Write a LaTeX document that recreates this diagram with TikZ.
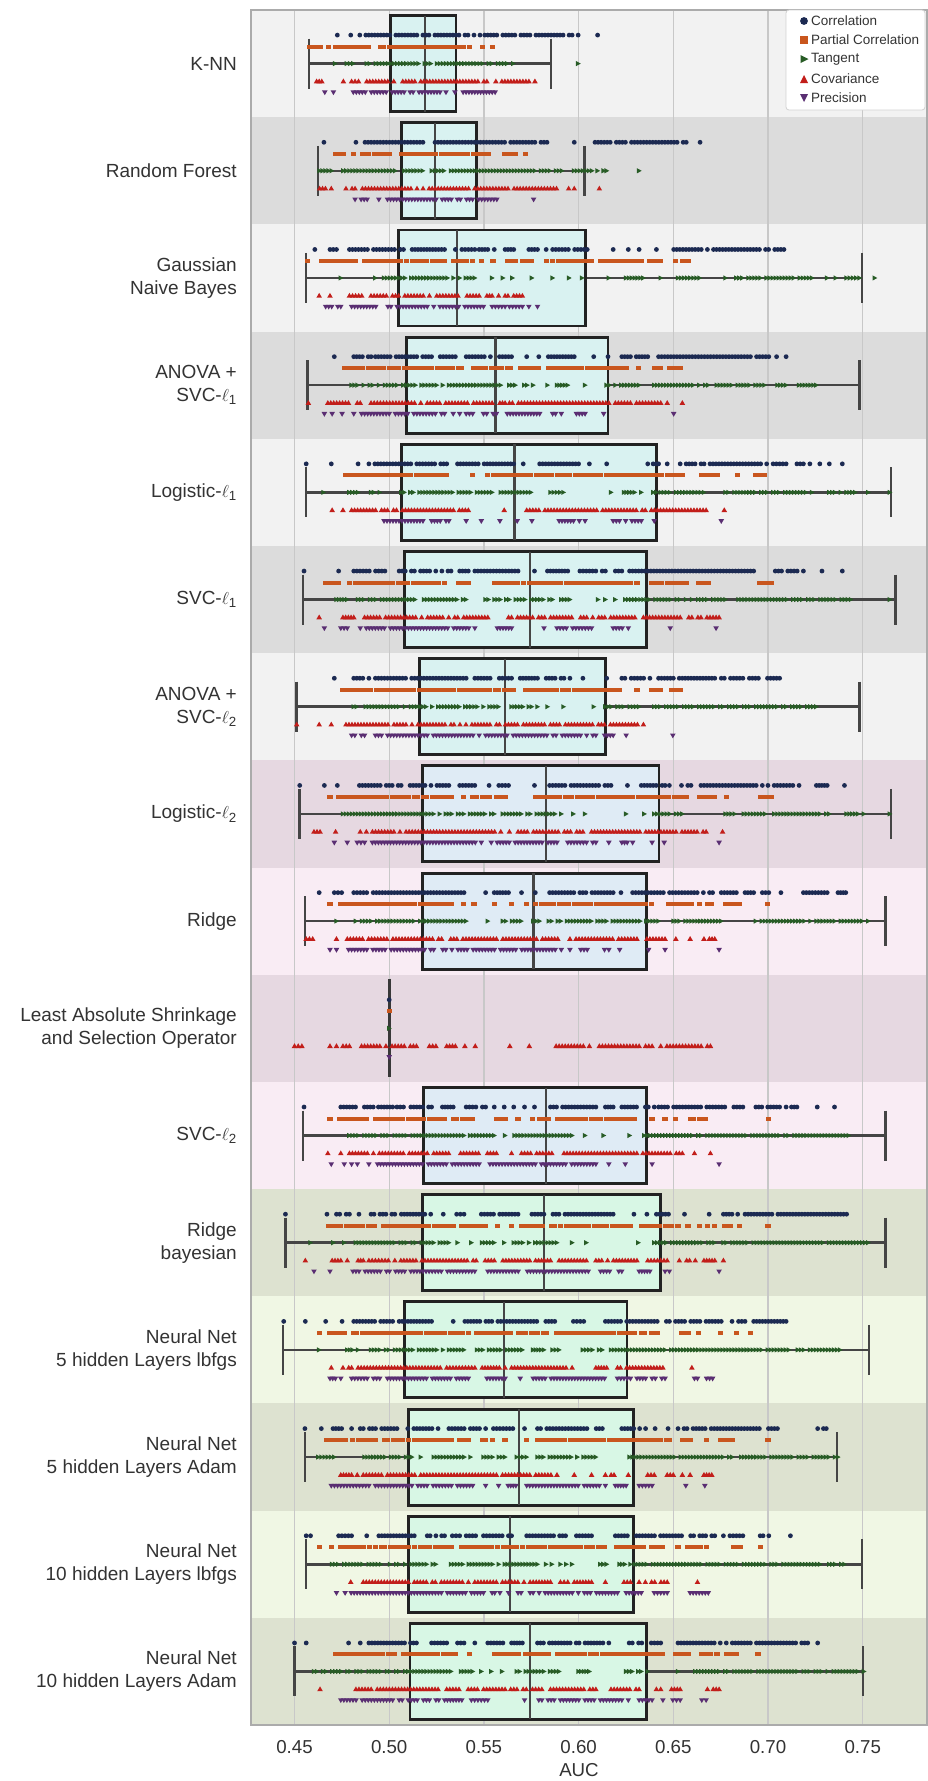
\documentclass[tikz,border=0pt]{standalone}
\usepackage{fontspec}
\setmainfont{Liberation Sans}
\definecolor{bandA}{HTML}{F2F2F2}
\definecolor{bandB}{HTML}{DCDCDC}
\definecolor{bandPa}{HTML}{E6D8E1}
\definecolor{bandPb}{HTML}{F9ECF4}
\definecolor{bandGa}{HTML}{DDE2D0}
\definecolor{bandGb}{HTML}{F0F7E4}
\definecolor{boxC}{HTML}{D9F2F1}
\definecolor{boxB}{HTML}{DFEBF5}
\definecolor{boxG}{HTML}{D8F7E5}
\definecolor{ccorr}{HTML}{1C2A52}
\definecolor{cpart}{HTML}{C9561E}
\definecolor{ctan}{HTML}{285C26}
\definecolor{ccov}{HTML}{C21E1A}
\definecolor{cprec}{HTML}{5A2E72}
\definecolor{txtc}{HTML}{333333}
\definecolor{gridc}{HTML}{C8C8C8}
\definecolor{framec}{HTML}{ABABAB}
\definecolor{whiskc}{HTML}{454545}
\definecolor{edgec}{HTML}{222222}

% markers of the five strips
\newcommand\mcorr[2]{\fill[ccorr] (#1,#2) circle (2.4pt);}
\newcommand\mpart[2]{\fill[cpart] (#1,#2) ++(-2.6pt,-2pt) rectangle ++(5.2pt,4pt);}
\newcommand\mtan[2]{\fill[ctan] (#1,#2) ++(-2.2pt,2.6pt) -- ++(4.8pt,-2.6pt) -- ++(-4.8pt,-2.6pt) -- cycle;}
\newcommand\mcov[2]{\fill[ccov] (#1,#2) ++(-2.8pt,-2.2pt) -- ++(5.6pt,0pt) -- ++(-2.8pt,4.8pt) -- cycle;}
\newcommand\mprec[2]{\fill[cprec] (#1,#2) ++(-2.8pt,2.2pt) -- ++(5.6pt,0pt) -- ++(-2.8pt,-4.8pt) -- cycle;}

% strip of markers: row, vertical offset, marker, list of from/to runs (axis units)
\newcommand\drawstrip[4]{%
  \pgfmathsetmacro\stripy{10+(#1-0.5)*107.19+#2}%
  \foreach \segA/\segB in {#4}{%
    \pgfmathtruncatemacro\segN{round((\segB-\segA)/7)}%
    \pgfmathsetmacro\segD{(\segB-\segA)/max(\segN,1)}%
    \foreach \k in {0,...,\segN}{%
      \pgfmathtruncatemacro\keep{(rnd>0.12)||(\k==0)||(\k==\segN)}%
      \ifnum\keep>0
        \pgfmathsetmacro\segX{250+(\segA+\k*\segD)/2.313}%
        #3{\segX}{\stripy}%
      \fi
    }%
  }%
}
\newcommand\rowdots[6]{%
  \drawstrip{#1}{-28.5}{\mcorr}{#2}%
  \drawstrip{#1}{-17}{\mpart}{#3}%
  \drawstrip{#1}{0}{\mtan}{#4}%
  \drawstrip{#1}{17.5}{\mcov}{#5}%
  \drawstrip{#1}{29}{\mprec}{#6}%
}
% box and whiskers: row, low whisker, Q1, median, Q3, high whisker, fill
\newcommand\boxrow[7]{%
  \pgfmathsetmacro\bc{10+(#1-0.5)*107.19}%
  \pgfmathsetmacro\bwl{250+#2/2.313}%
  \pgfmathsetmacro\bqa{250+#3/2.313}%
  \pgfmathsetmacro\bmd{250+#4/2.313}%
  \pgfmathsetmacro\bqb{250+#5/2.313}%
  \pgfmathsetmacro\bwh{250+#6/2.313}%
  \draw[whisk] (\bwl,\bc) -- (\bqa,\bc) (\bqb,\bc) -- (\bwh,\bc);
  \draw[whisk] (\bwl,{\bc-25}) -- (\bwl,{\bc+25});
  \draw[whisk] (\bwh,{\bc-25}) -- (\bwh,{\bc+25});
  \filldraw[boxline, fill=#7] (\bqa,{\bc-48}) rectangle (\bqb,{\bc+48});
  \draw[medline] (\bmd,{\bc-48}) -- (\bmd,{\bc+48});
}

\begin{document}
\begin{tikzpicture}[x=1pt,y=-1pt,
  whisk/.style={draw=whiskc, line width=2.5pt},
  boxline/.style={draw=edgec, line width=2.9pt},
  medline/.style={draw=whiskc, line width=2.4pt},
  rowlabel/.style={anchor=east, align=right, inner sep=0pt, text=txtc,
    font=\fontsize{19}{22.8}\selectfont},
  ticklabel/.style={inner sep=0pt, text=txtc, font=\fontsize{18.7}{22}\selectfont},
  legtext/.style={anchor=west, inner sep=0pt, text=txtc, font=\fontsize{13.5}{16}\selectfont}]
\pgfmathsetseed{4242}
\useasboundingbox (0,0) rectangle (928,1781);
\fill[white] (0,0) rectangle (928,1781);

% row bands
\foreach \i/\c in {1/bandA,2/bandB,3/bandA,4/bandB,5/bandA,6/bandB,7/bandA,
  8/bandPa,9/bandPb,10/bandPa,11/bandPb,12/bandGa,13/bandGb,14/bandGa,15/bandGb,16/bandGa}{
  \fill[\c] (251,{10+(\i-1)*107.19}) rectangle (927,{10+\i*107.19});
}
% vertical grid
\foreach \k in {0,...,6}{
  \draw[gridc, line width=1.2pt] ({294.5+\k*94.7},10) -- ({294.5+\k*94.7},1725);
}

% boxes
\boxrow{1}{137}{324}{405}{476.5}{696}{boxC}
\boxrow{2}{157}{351}{428.5}{524}{773.5}{boxC}
\boxrow{3}{129}{344}{479}{776}{1415}{boxC}
\boxrow{4}{133}{362}{568}{828}{1410}{boxC}
\boxrow{5}{129}{350}{612}{940}{1483}{boxC}
\boxrow{6}{123}{358}{648}{918}{1493}{boxC}
\boxrow{7}{107}{392}{590}{822}{1410}{boxC}
\boxrow{8}{115}{400}{684}{946}{1483}{boxB}
\boxrow{9}{127}{398}{656}{918}{1470}{boxB}
\boxrow{11}{123}{402}{684}{918}{1470}{boxB}
\boxrow{12}{82}{398}{680}{950}{1470}{boxG}
\boxrow{13}{76}{357}{587}{872}{1432}{boxG}
\boxrow{14}{127}{367}{622}{888}{1358}{boxG}
\boxrow{15}{129}{366}{602}{888}{1415}{boxG}
\boxrow{16}{103}{370}{648}{918}{1418}{boxG}
% degenerate box of the lasso row
\draw[draw=edgec!90, line width=2.9pt] ({250+322/2.313},978.7) -- ({250+322/2.313},1077);

% strips
\rowdots{1}{202/202, 233/233, 254/532, 543/759, 804/804}
 {139/163, 181/181, 199/199, 210/507, 537/537, 560/560}
 {197/197, 224/239, 270/609, 759/759}
 {154/166, 216/216, 235/251, 270/659}
 {173/173, 193/193, 239/474, 493/567}
\rowdots{2}{171/171, 245/245, 266/400, 428/687, 750/750, 798/1009, 1041/1041}
 {198/216, 240/240, 260/492, 503/551, 588/613, 638/638}
 {161/189, 216/449, 465/791, 804/825, 900/900}
 {161/188, 222/243, 260/709, 737/750, 808/808}
 {243/271, 298/298, 318/571, 656/656}
\rowdots{3}{150/150, 185/200, 230/355, 375/450, 475/520, 530/550, 565/565, 590/610, 645/665, 685/685, 700/780, 840/840, 875/875, 900/900, 940/940, 980/1235}
 {133/133, 165/185, 195/390, 400/450, 470/515, 535/535, 562/562, 595/615, 630/650, 685/685, 700/790, 810/905, 925/950, 985/985, 1000/1015}
 {210/210, 290/290, 310/520, 560/560, 585/585, 607/607, 652/652, 700/700, 738/738, 768/768, 830/830, 870/910, 950/950, 990/1040, 1100/1100, 1125/1300, 1335/1335, 1355/1355, 1380/1410, 1445/1445}
 {160/160, 185/185, 230/415, 432/530, 548/560, 575/575, 590/630}
 {175/210, 235/410, 425/540, 560/590, 600/630, 645/645, 665/665}
\rowdots{4}{195/195, 240/280, 290/420, 440/475, 500/605, 640/640, 668/668, 690/750, 795/795, 828/828, 860/920, 945/1200, 1218/1218, 1240/1240}
 {218/455, 467/467, 483/525, 537/603, 627/668, 690/870, 898/898, 935/950, 970/995}
 {235/580, 600/655, 688/688, 710/735, 775/775, 825/900, 935/1060, 1080/1190, 1220/1240, 1270/1310}
 {135/135, 180/255, 280/395, 410/560, 578/590, 600/830, 845/950, 965/965, 1000/1000}
 {172/172, 190/190, 213/213, 240/240, 258/450, 470/515, 540/570, 595/670, 700/720, 755/775, 818/818, 980/980}
\rowdots{5}{130/130, 188/188, 250/250, 275/455, 480/610, 632/632, 670/760, 785/785, 825/825, 920/945, 965/965, 995/1195, 1210/1240, 1265/1280, 1295/1295, 1318/1318, 1340/1340, 1370/1370}
 {220/455, 515/515, 550/610, 620/1000, 1045/1080, 1128/1128, 1170/1190}
 {170/170, 230/250, 280/300, 350/560, 580/650, 695/725, 835/835, 865/890, 905/940, 950/1050, 1100/1300, 1340/1400, 1430/1430, 1480/1480}
 {190/190, 215/215, 235/505, 588/588, 640/1055, 1097/1097}
 {310/400, 420/460, 500/500, 535/535, 578/578, 618/618, 652/652, 715/775, 840/905, 935/935, 1090/1090}
\rowdots{6}{125/125, 205/205, 240/312, 345/465, 485/505, 520/620, 658/658, 688/735, 763/822, 845/860, 878/1165, 1215/1280, 1323/1323, 1370/1370}
 {175/205, 230/450, 483/505, 565/590, 598/895, 930/1010, 1038/1060, 1178/1205}
 {200/225, 250/500, 545/600, 615/700, 720/740, 805/805, 822/822, 845/845, 868/1100, 1130/1390, 1480/1480}
 {160/160, 215/240, 265/550, 598/890, 910/995, 1015/1085}
 {172/172, 210/225, 255/520, 572/605, 680/680, 710/790, 840/875, 972/972, 1078/1078}
\rowdots{7}{195/195, 240/275, 290/500, 520/605, 625/665, 685/740, 770/770, 825/825, 860/925, 945/1075, 1090/1140, 1155/1225}
 {215/470, 485/530, 540/610, 638/855, 895/895, 930/950, 975/995}
 {240/575, 605/665, 688/688, 725/725, 795/795, 822/900, 935/1310}
 {108/108, 160/160, 188/188, 222/555, 570/910}
 {235/265, 290/530, 545/800, 820/840, 870/870, 978/978}
\rowdots{8}{115/115, 172/172, 202/202, 253/460, 485/520, 553/598, 658/658, 693/835, 873/873, 905/960, 970/970, 998/1020, 1043/1185, 1198/1270, 1310/1335, 1375/1375}
 {185/185, 205/350, 360/465, 493/493, 515/553, 570/590, 660/1010, 1040/1075, 1103/1103, 1180/1205}
 {215/565, 585/720, 748/748, 775/775, 870/870, 912/912, 935/1000, 1100/1340, 1380/1420, 1480/1480}
 {148/162, 198/198, 255/580, 600/600, 620/770, 790/1055, 1093/1093}
 {195/195, 225/225, 248/265, 283/535, 558/710, 735/800, 830/830, 860/885, 930/930, 958/958, 1085/1085}
\rowdots{9}{160/160, 195/212, 240/270, 285/495, 545/598, 628/628, 660/660, 693/840, 858/858, 885/1070, 1090/1125, 1145/1165, 1185/1200, 1228/1228, 1280/1335, 1360/1378}
 {185/185, 210/245, 252/465, 493/493, 518/518, 565/565, 605/605, 640/640, 660/928, 968/990, 1000/1020, 1040/1040, 1058/1068, 1100/1133, 1197/1197}
 {200/200, 245/500, 550/550, 585/945, 980/1090, 1170/1430}
 {130/145, 200/200, 225/570, 585/895, 918/960, 985/985, 1018/1018, 1050/1075}
 {185/200, 228/720, 740/740, 765/780, 820/830, 855/855, 922/922, 960/960, 1085/1085}
\rowdots{10}{322/322}{322/322}{322/322}
 {103/120, 185/230, 258/385, 415/430, 455/475, 497/497, 521/521, 601/601, 646/646, 708/785, 808/900, 915/930, 950/1065}
 {322/322}
\rowdots{11}{125/125, 210/285, 297/330, 340/355, 372/420, 445/470, 500/545, 565/565, 588/588, 610/610, 635/635, 658/658, 695/800, 822/840, 860/935, 945/1140, 1170/1225, 1240/1265, 1312/1312, 1352/1352}
 {185/185, 207/450, 470/515, 570/590, 620/620, 653/653, 670/810, 825/890, 930/930, 960/960, 985/985, 1018/1053, 1200/1200}
 {230/565, 590/590, 612/745, 775/775, 818/818, 878/878, 912/1385}
 {180/180, 210/210, 230/410, 425/570, 605/605, 628/1000, 1028/1028, 1065/1065}
 {188/188, 218/218, 235/275, 295/530, 555/800, 830/830, 868/868, 930/930, 1085/1085}
\rowdots{12}{82/82, 178/178, 200/230, 252/252, 280/335, 350/418, 447/447, 478/495, 535/620, 652/840, 888/888, 918/918, 940/968, 1005/1005, 1062/1062, 1095/1128, 1145/1380}
 {182/330, 342/470, 490/515, 525/545, 572/572, 604/604, 628/880, 905/990, 1013/1013, 1040/1040, 1058/1075, 1097/1112, 1132/1132, 1198/1198}
 {140/140, 193/193, 218/218, 245/460, 480/480, 512/512, 537/565, 588/588, 610/710, 745/745, 778/778, 898/898, 935/1430}
 {128/128, 190/210, 225/225, 250/262, 275/320, 335/565, 585/695, 715/778, 800/895, 920/965, 993/993, 1010/1030, 1050/1075, 1095/1095}
 {148/148, 185/185, 238/520, 550/860, 900/925, 960/970, 1085/1085}
\rowdots{13}{78/78, 128/128, 175/175, 213/213, 240/330, 345/420, 470/470, 497/705, 748/772, 822/1090, 1115/1145, 1165/1240}
 {160/160, 185/218, 240/505, 525/685, 710/890, 905/943, 998/1015, 1038/1038, 1088/1088, 1125/1125, 1157/1157}
 {160/160, 225/250, 280/495, 525/630, 655/680, 700/715, 770/815, 835/1365}
 {188/188, 215/235, 250/440, 455/520, 537/590, 605/745, 800/825, 850/955, 1022/1022}
 {185/210, 235/300, 318/505, 548/590, 625/625, 655/820, 850/880, 895/915, 930/960, 1028/1070}
\rowdots{14}{127/127, 165/165, 192/212, 235/235, 255/340, 365/435, 460/545, 563/608, 635/635, 665/815, 860/915, 937/937, 967/967, 990/1220, 1313/1333}
 {178/258, 270/465, 485/505, 537/560, 590/590, 640/640, 665/970, 1000/1018, 1055/1055, 1088/1115, 1198/1198}
 {158/195, 265/395, 425/510, 540/590, 617/640, 665/800, 878/1360}
 {210/235, 248/710, 750/750, 790/790, 822/842, 875/875, 920/935, 965/1000, 1018/1018, 1050/1068}
 {188/275, 290/515, 545/545, 575/575, 597/615, 640/822, 845/870, 900/930, 1008/1008, 1052/1052}
\rowdots{15}{130/140, 205/235, 270/270, 298/380, 410/450, 468/485, 500/522, 540/605, 640/730, 755/790, 845/1075, 1095/1140, 1180/1200, 1250/1250}
 {160/160, 188/238, 248/465, 490/540, 552/600, 610/680, 695/820, 848/910, 930/955, 990/990, 1013/1055, 1118/1135, 1180/1180}
 {190/430, 465/665, 685/745, 810/825, 855/880, 890/1375}
 {233/233, 262/505, 520/655, 662/695, 718/735, 750/790, 822/822, 865/880, 900/965, 1035/1035}
 {200/200, 220/540, 560/578, 598/598, 620/850, 870/905, 935/965, 1018/1060}
\rowdots{16}{103/103, 130/130, 228/228, 255/255, 275/385, 420/455, 480/495, 520/520, 550/585, 605/630, 665/830, 877/950, 990/1290, 1313/1313}
 {198/235, 245/335, 355/475, 507/507, 565/620, 637/690, 712/850, 860/955, 985/1015, 1045/1080, 1103/1125, 1175/1175}
 {148/465, 488/515, 535/535, 558/558, 583/583, 617/715, 760/785, 870/905, 920/920, 990/990, 1030/1420}
 {162/162, 245/435, 455/590, 603/675, 695/800, 835/900, 940/950, 975/995, 1058/1085}
 {210/330, 345/415, 430/490, 512/550, 635/635, 668/860, 875/875, 900/930, 955/955, 978/995, 1045/1055}

% axes frame
\draw[framec, line width=1.5pt] (251,10) rectangle (927,1725);

% legend
\draw[draw=gray!35, fill=white, line width=0.8pt, rounded corners=3pt] (786,10) rectangle (925,110);
\fill[ccorr] (804,21) circle (3.9pt);
\fill[cpart] (800,36) rectangle (808,44);
\fill[ctan] (800.5,55) -- (808.5,59) -- (800.5,63) -- cycle;
\fill[ccov] (800,83) -- (808,83) -- (804,75) -- cycle;
\fill[cprec] (800,94) -- (808,94) -- (804,102) -- cycle;
\node[legtext] (lg1) at (811,21) {Correlation};
\node[legtext] (lg2) at (811,40) {Partial Correlation};
\node[legtext] (lg3) at (811,59) {Tangent};
\node[legtext] (lg4) at (811,79) {Covariance};
\node[legtext] (lg5) at (811,98) {Precision};

% category labels
\node[rowlabel] (r1) at (237,{10+0.5*107.19}) {K-NN};
\node[rowlabel] (r2) at (237,{10+1.5*107.19}) {Random Forest};
\node[rowlabel] (r3) at (237,{10+2.5*107.19}) {Gaussian~\\Naive Bayes};
\node[rowlabel] (r4) at (237,{10+3.5*107.19}) {ANOVA +~\\SVC-$\ell$\textsubscript{1}};
\node[rowlabel] (r5) at (237,{10+4.5*107.19}) {Logistic-$\ell$\textsubscript{1}};
\node[rowlabel] (r6) at (237,{10+5.5*107.19}) {SVC-$\ell$\textsubscript{1}};
\node[rowlabel] (r7) at (237,{10+6.5*107.19}) {ANOVA +~\\SVC-$\ell$\textsubscript{2}};
\node[rowlabel] (r8) at (237,{10+7.5*107.19}) {Logistic-$\ell$\textsubscript{2}};
\node[rowlabel] (r9) at (237,{10+8.5*107.19}) {Ridge};
\node[rowlabel] (r10) at (237,{10+9.5*107.19}) {Least Absolute Shrinkage~\\and Selection Operator};
\node[rowlabel] (r11) at (237,{10+10.5*107.19}) {SVC-$\ell$\textsubscript{2}};
\node[rowlabel] (r12) at (237,{10+11.5*107.19}) {Ridge~\\bayesian};
\node[rowlabel] (r13) at (237,{10+12.5*107.19}) {Neural Net~\\5 hidden Layers lbfgs};
\node[rowlabel] (r14) at (237,{10+13.5*107.19}) {Neural Net~\\5 hidden Layers Adam};
\node[rowlabel] (r15) at (237,{10+14.5*107.19}) {Neural Net~\\10 hidden Layers lbfgs};
\node[rowlabel] (r16) at (237,{10+15.5*107.19}) {Neural Net~\\10 hidden Layers Adam};

% x axis
\foreach \k/\t in {0/0.45,1/0.50,2/0.55,3/0.60,4/0.65,5/0.70,6/0.75}{
  \node[ticklabel] (tick\k) at ({294.5+\k*94.7},1747.5) {\t};
}
\node[ticklabel] (xlab) at (579,1770) {AUC};
\end{tikzpicture}
\end{document}
